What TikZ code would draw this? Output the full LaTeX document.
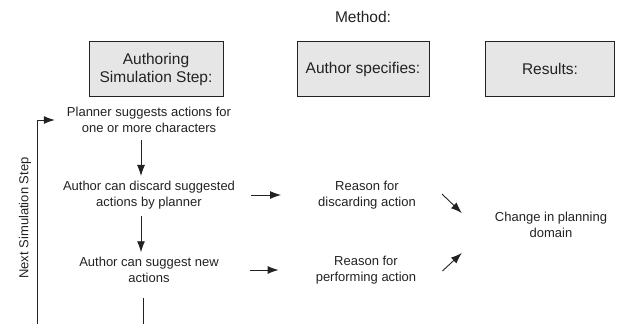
\documentclass[tikz,border=0pt]{standalone}
\usepackage{fontspec}
\setmainfont{Liberation Sans}
\usetikzlibrary{arrows.meta}
\definecolor{boxgray}{HTML}{E6E6E6}
\definecolor{ink}{HTML}{222222}
\begin{document}
\begin{tikzpicture}[x=1pt, y=-1pt,
          every node/.style = {align=center, text=ink, inner sep=5pt, font=\fontsize{13}{15.5}\selectfont},
          header/.style = {draw=ink, fill=boxgray, minimum height=55pt, inner sep=2pt, font=\fontsize{15.5}{18}\selectfont},
          arr/.style = {draw=ink, line width=0.9pt, -{Latex[length=11pt, width=8pt]}},
          line/.style = {draw=ink, line width=0.9pt}]
          \useasboundingbox (0,0) rectangle (618,324);
          % Overskrift og kolonner
          \node[font=\fontsize{15.5}{18}\selectfont](method) at (363, 17) {Method:};
          \node[header, minimum width=134pt](hstep) at (156, 69) {Authoring\\Simulation Step:};
          \node[header, minimum width=132pt](hspec) at (363, 69) {Author specifies:};
          \node[header, minimum width=129pt](hres) at (550, 69) {Results:};
          % Trin i simuleringen
          \node(plan) at (149, 120) {Planner suggests actions for\\one or more characters};
          \node(disc) at (149, 195) {Author can discard suggested\\actions by planner};
          \node(sugg) at (149, 270) {Author can suggest new\\actions};
          \node(rdisc) at (367, 195) {Reason for\\discarding action};
          \node(rperf) at (366, 270) {Reason for\\performing action};
          \node(change) at (551, 225) {Change in planning\\domain};
          \node[rotate=90](next) at (25, 218) {Next Simulation Step};
          \coordinate(loopbot) at (37, 324);
          \coordinate(stepbot) at (143, 324);
          % Pile
          \draw[arr, shorten <=2pt] ([xshift=-8pt]plan.south) -- ([xshift=-8pt]disc.north);
          \draw[arr, shorten <=2pt] ([xshift=-8pt]disc.south) -- ([xshift=-8pt]sugg.north);
          \draw[line, shorten <=10pt] ([xshift=-6pt]sugg.south) -- (stepbot);
          \draw[arr] (loopbot) |- ([xshift=-7pt]plan.west);
          \draw[arr, shorten <=11pt, shorten >=32pt] (disc) -- (rdisc);
          \draw[arr, shorten <=26pt, shorten >=32pt] (sugg) -- (rperf);
          \draw[arr] ([xshift=21pt, yshift=1pt]rdisc.east) -- ([xshift=-28pt, yshift=12pt]change.west);
          \draw[arr] ([xshift=21pt, yshift=-1pt]rperf.east) -- ([xshift=-28pt, yshift=-28pt]change.west);
\end{tikzpicture}
\end{document}
